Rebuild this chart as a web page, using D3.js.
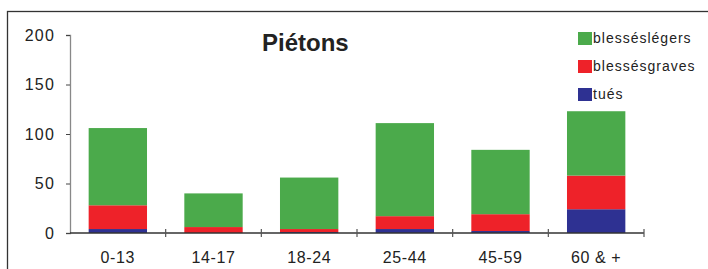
<!DOCTYPE html>
<html>
<head>
<meta charset="utf-8">
<script src="https://cdn.jsdelivr.net/npm/d3@7"></script>
<style>
  body { margin: 0; background: #fff; }
  text { font-family: "Liberation Sans", Arial, sans-serif; fill: #222; }
</style>
</head>
<body>
<div id="chart"></div>
<script>
// données
const categories = ["0-13", "14-17", "18-24", "25-44", "45-59", "60 & +"];
const tues = [4, 0, 1, 4, 2, 24];
const blessesGraves = [24, 6, 3, 13, 17, 34];
const blessesLegers = [78, 34, 52, 94, 65, 65];
const yTicks = [0, 50, 100, 150, 200];
const seriesNames = ["tués", "blessésgraves", "blesséslégers"];
const seriesColors = ["#2e3192", "#ee2229", "#4baa4b"];

const width = 708, height = 269;
const svg = d3.select("#chart").append("svg")
    .attr("width", width)
    .attr("height", height);

// cadre
svg.append("rect")
    .attr("x", 7.5).attr("y", 11.5)
    .attr("width", 720).attr("height", 300)
    .attr("fill", "none")
    .attr("stroke", "#333")
    .attr("stroke-width", 1.3);

const x = d3.scaleBand().domain(categories).range([70, 644]).paddingInner(0.39).paddingOuter(0.195);
const y = d3.scaleLinear().domain([0, 200]).range([233, 35]);

const rows = categories.map((c, i) => ({ cat: c, "tués": tues[i], "blessésgraves": blessesGraves[i], "blesséslégers": blessesLegers[i] }));
const stack = d3.stack().keys(seriesNames)(rows);

svg.append("g").selectAll("g")
    .data(stack)
    .enter().append("g")
    .attr("fill", (d, i) => seriesColors[i])
    .selectAll("rect")
    .data(d => d)
    .enter().append("rect")
    .attr("x", d => x(d.data.cat))
    .attr("width", x.bandwidth())
    .attr("y", d => y(d[1]))
    .attr("height", d => y(d[0]) - y(d[1]));

// axe Y
const yAxis = svg.append("g").attr("transform", "translate(70,0)")
    .call(d3.axisLeft(y).tickValues(yTicks).tickSize(4).tickPadding(11));
yAxis.select(".domain").attr("stroke", "#888").attr("stroke-width", 1.3);
yAxis.selectAll(".tick line").attr("stroke", "#444");
yAxis.selectAll("text").attr("font-size", 16).attr("letter-spacing", 1.2).attr("fill", "#222")
    .attr("font-family", "Liberation Sans, Arial, sans-serif");

// axe X
const xBoundaries = d3.scaleLinear().domain([0, categories.length]).range([70, 644]);
svg.append("line")
    .attr("x1", 70).attr("x2", 644)
    .attr("y1", y(0)).attr("y2", y(0))
    .attr("stroke", "#333").attr("stroke-width", 1.3);
svg.append("g").selectAll("line")
    .data(d3.range(1, categories.length + 1))
    .enter().append("line")
    .attr("x1", d => xBoundaries(d)).attr("x2", d => xBoundaries(d))
    .attr("y1", y(0) - 4).attr("y2", y(0) + 4)
    .attr("stroke", "#555").attr("stroke-width", 1.2);
svg.append("g").selectAll("text")
    .data(categories)
    .enter().append("text")
    .attr("x", d => x(d) + x.bandwidth() / 2)
    .attr("y", 263)
    .attr("text-anchor", "middle")
    .attr("font-size", 16)
    .attr("letter-spacing", 0.6)
    .text(d => d);

// titre
svg.append("text")
    .attr("x", 262).attr("y", 51)
    .attr("font-size", 24)
    .attr("font-weight", "bold")
    .attr("fill", "#222")
    .text("Piétons");

// légende
const legendOrder = [2, 1, 0];
const legend = svg.append("g").selectAll("g")
    .data(legendOrder)
    .enter().append("g")
    .attr("transform", (d, i) => `translate(578,${32 + i * 28})`);
legend.append("rect")
    .attr("width", 14).attr("height", 13)
    .attr("fill", d => seriesColors[d]);
legend.append("text")
    .attr("x", 15).attr("y", 10.5)
    .attr("font-size", 14)
    .attr("letter-spacing", 1)
    .text(d => seriesNames[d]);
</script>
</body>
</html>
